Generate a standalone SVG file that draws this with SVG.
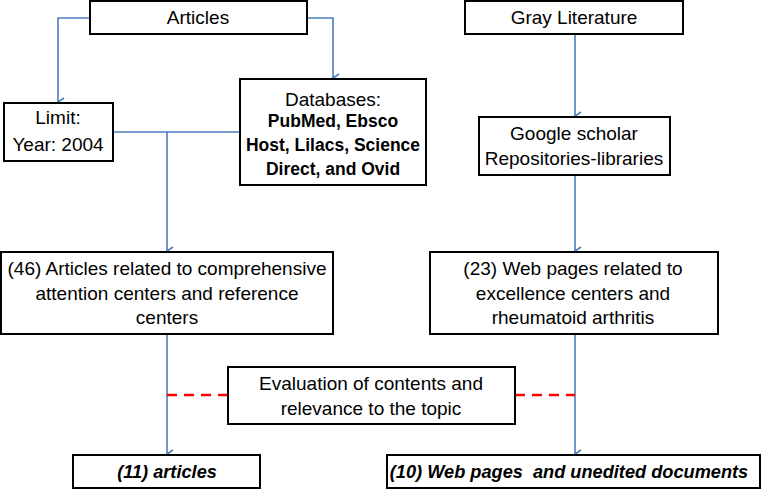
<svg xmlns="http://www.w3.org/2000/svg" width="761" height="490" viewBox="0 0 761 490">
<defs>
<style>
.box{fill:#fff;stroke:#000;stroke-width:2}
.t{font-family:"Liberation Sans",Arial,sans-serif;font-size:19px;fill:#000;text-anchor:middle}
.b{font-weight:bold;font-size:17.5px}
.bi{font-weight:bold;font-style:italic;font-size:18.2px}
.c{fill:none;stroke:#4a7ebb;stroke-width:1.6}
.d{fill:none;stroke:#ff0000;stroke-width:2.5;stroke-dasharray:10,7}
</style>
<marker id="ah" viewBox="0 0 10 10" refX="5" refY="9" markerWidth="10" markerHeight="10" markerUnits="userSpaceOnUse" orient="auto-start-reverse">
<path d="M1,3 L5,9 L9,3" fill="none" stroke="#4a7ebb" stroke-width="1.6"/>
</marker>
</defs>
<rect width="761" height="490" fill="#fff"/>
<g id="connectors">
<path class="c" d="M90,18 H58 V102" marker-end="url(#ah)"/>
<path class="c" d="M307,18 H333 V78" marker-end="url(#ah)"/>
<path class="c" d="M113,132 H240"/>
<path class="c" d="M167,132 V251" marker-end="url(#ah)"/>
<path class="c" d="M575,34 V116" marker-end="url(#ah)"/>
<path class="c" d="M575,175 V251" marker-end="url(#ah)"/>
<path class="c" d="M167,334 V454" marker-end="url(#ah)"/>
<path class="c" d="M575,334 V454" marker-end="url(#ah)"/>
<path class="d" d="M167,395 H228"/>
<path class="d" d="M515,395 H575"/>
</g>
<g id="articles">
<rect class="box" x="90" y="1" width="217" height="33"/>
<text class="t" x="198" y="24">Articles</text>
</g>
<g id="limit">
<rect class="box" x="4" y="103" width="109" height="58"/>
<text class="t" x="58" y="124">Limit:</text>
<text class="t" x="58" y="151">Year: 2004</text>
</g>
<g id="databases">
<rect class="box" x="240" y="79" width="186" height="106"/>
<text class="t" x="333" y="106">Databases:</text>
<text class="t b" x="333" y="127">PubMed, Ebsco</text>
<text class="t b" x="333" y="151">Host, Lilacs, Science</text>
<text class="t b" x="333" y="175">Direct, and Ovid</text>
</g>
<g id="gray">
<rect class="box" x="465" y="1" width="218" height="33"/>
<text class="t" x="574" y="24">Gray Literature</text>
</g>
<g id="google">
<rect class="box" x="479" y="117" width="191" height="58"/>
<text class="t" x="574" y="140">Google scholar</text>
<text class="t" x="574" y="165">Repositories-libraries</text>
</g>
<g id="n46">
<rect class="box" x="1" y="252" width="332" height="82"/>
<text class="t" x="167" y="275">(46) Articles related to comprehensive</text>
<text class="t" x="167" y="300">attention centers and reference</text>
<text class="t" x="167" y="324">centers</text>
</g>
<g id="n23">
<rect class="box" x="430" y="252" width="288" height="82"/>
<text class="t" x="573" y="275">(23) Web pages related to</text>
<text class="t" x="573" y="300">excellence centers and</text>
<text class="t" x="573" y="324">rheumatoid arthritis</text>
</g>
<g id="evaluation">
<rect class="box" x="228" y="367" width="287" height="57"/>
<text class="t" x="371" y="390">Evaluation of contents and</text>
<text class="t" x="371" y="415">relevance to the topic</text>
</g>
<g id="n11">
<rect class="box" x="73" y="455" width="187" height="33"/>
<text class="t bi" x="167" y="478">(11) articles</text>
</g>
<g id="n10">
<rect class="box" x="387" y="455" width="373" height="33"/>
<text class="t bi" x="569" y="478" xml:space="preserve">(10) Web pages  and unedited documents</text>
</g>
</svg>
